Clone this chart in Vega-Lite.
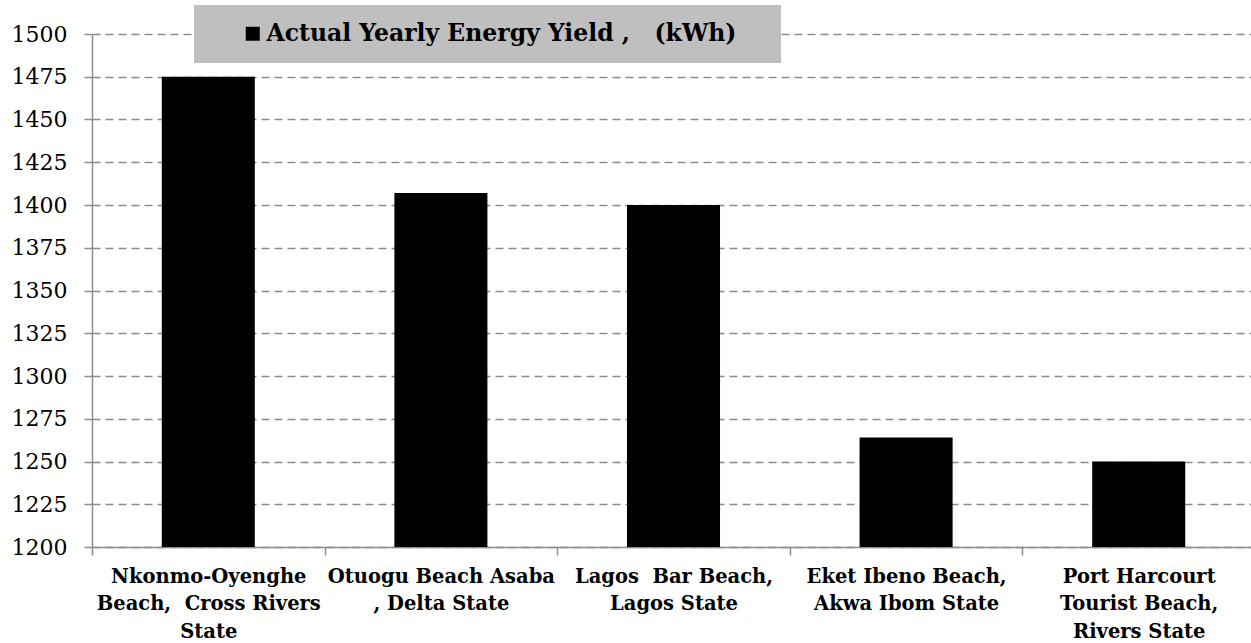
{
  "$schema": "https://vega.github.io/schema/vega-lite/v6.json",
  "width": 1163,
  "height": 513,
  "autosize": {"type": "none"},
  "padding": {"left": 92, "top": 34, "right": 0, "bottom": 96},
  "background": "white",
  "data": {
    "values": [
      {"site": "Nkonmo-Oyenghe|Beach,\u00a0 Cross Rivers|State", "yield": 1475},
      {"site": "Otuogu Beach Asaba|, Delta State", "yield": 1407},
      {"site": "Lagos\u00a0 Bar Beach,|Lagos State", "yield": 1400},
      {"site": "Eket Ibeno Beach,|Akwa Ibom State", "yield": 1264},
      {"site": "Port Harcourt|Tourist Beach,|Rivers State", "yield": 1250}
    ]
  },
  "mark": {"type": "bar", "width": {"band": 0.4}, "clip": true},
  "encoding": {
    "x": {
      "field": "site",
      "type": "nominal",
      "sort": null,
      "scale": {"paddingInner": 0, "paddingOuter": 0},
      "axis": {
        "title": null,
        "labelAngle": 0,
        "labelExpr": "split(datum.label, '|')",
        "labelFont": "DejaVu Serif",
        "labelFontWeight": "bold",
        "labelFontSize": 19.5,
        "labelLineHeight": 27.5,
        "labelColor": "black",
        "labelPadding": 12,
        "labelLimit": 300,
        "tickBand": "extent",
        "tickSize": 8,
        "tickColor": "#8c8c8c",
        "domainColor": "#8c8c8c",
        "domainWidth": 1.5,
        "tickWidth": 1.5,
        "grid": false
      }
    },
    "y": {
      "field": "yield",
      "type": "quantitative",
      "scale": {"domain": [1200, 1500], "zero": false, "nice": false},
      "axis": {
        "title": null,
        "values": [1200, 1225, 1250, 1275, 1300, 1325, 1350, 1375, 1400, 1425, 1450, 1475, 1500],
        "format": "d",
        "labelFont": "DejaVu Serif",
        "labelFontSize": 22,
        "labelColor": "black",
        "labelPadding": 17,
        "tickSize": 8,
        "tickColor": "#8c8c8c",
        "tickWidth": 1.5,
        "domainColor": "#8c8c8c",
        "domainWidth": 1.5,
        "grid": true,
        "gridColor": "#8c8c8c",
        "gridWidth": 1.5,
        "gridDash": [8, 5]
      }
    },
    "color": {
      "datum": "Actual Yearly Energy Yield ,\u00a0\u00a0\u00a0(kWh)",
      "type": "nominal",
      "scale": {"range": ["black"]},
      "legend": {
        "title": null,
        "orient": "none",
        "legendX": 102,
        "legendY": -29,
        "fillColor": "#bfbfbf",
        "padding": 17,
        "symbolType": "square",
        "symbolSize": 196,
        "symbolOffset": 30,
        "symbolStrokeWidth": 0,
        "labelOffset": 2,
        "labelFont": "DejaVu Serif",
        "labelFontWeight": "bold",
        "labelFontSize": 23.5,
        "labelColor": "black",
        "labelLimit": 700,
        "labelExpr": "datum.label + '\u00a0\u2800'"
      }
    }
  },
  "config": {"view": {"stroke": null}}
}
